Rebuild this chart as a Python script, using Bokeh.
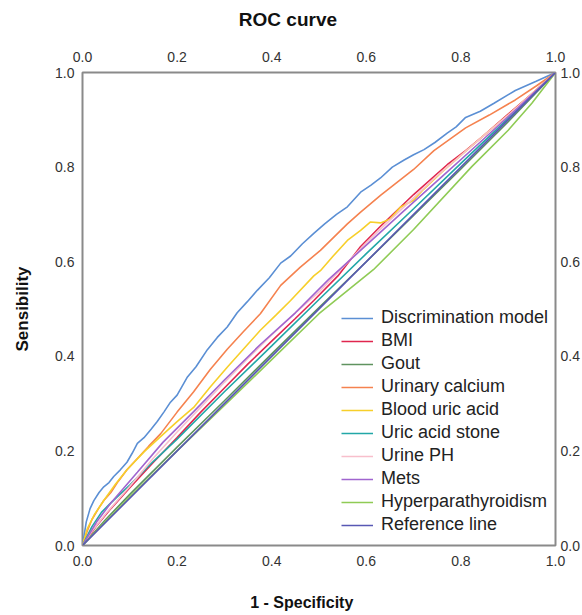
from bokeh.plotting import figure
from bokeh.layouts import column
from bokeh.models import (Range1d, LinearAxis, FixedTicker, PrintfTickFormatter,
                          Label, Legend, LegendItem)
from bokeh.embed import file_html
from bokeh.resources import INLINE

# ---------------- data ----------------
title_text = "ROC curve"
x_label = "1 - Specificity"
y_label = "Sensibility"

names = ["Discrimination model", "BMI", "Gout", "Urinary calcium", "Blood uric acid",
         "Uric acid stone", "Urine PH", "Mets", "Hyperparathyroidism", "Reference line"]

fpr_model = [0, 0.008, 0.016, 0.024, 0.035, 0.045, 0.056, 0.066, 0.080, 0.094, 0.105, 0.116,
             0.130, 0.145, 0.158, 0.172, 0.186, 0.200, 0.221, 0.240, 0.264, 0.285, 0.306,
             0.327, 0.348, 0.370, 0.395, 0.419, 0.440, 0.465, 0.489, 0.512, 0.537, 0.560,
             0.588, 0.610, 0.630, 0.655, 0.680, 0.700, 0.722, 0.745, 0.771, 0.790, 0.810,
             0.841, 0.870, 0.915, 0.958, 1.0]
tpr_model = [0, 0.050, 0.078, 0.095, 0.112, 0.124, 0.133, 0.146, 0.160, 0.176, 0.195, 0.216,
             0.228, 0.246, 0.262, 0.282, 0.303, 0.318, 0.355, 0.378, 0.414, 0.440, 0.462,
             0.492, 0.515, 0.540, 0.566, 0.597, 0.612, 0.638, 0.660, 0.680, 0.700, 0.716,
             0.747, 0.762, 0.777, 0.800, 0.815, 0.826, 0.837, 0.852, 0.872, 0.885, 0.905,
             0.918, 0.935, 0.962, 0.981, 1.0]

fpr_bmi = [0, 0.03, 0.06, 0.10, 0.15, 0.20, 0.25, 0.30, 0.35, 0.40, 0.45, 0.489, 0.54, 0.588,
           0.63, 0.70, 0.771, 0.81, 0.85, 0.90, 0.95, 1.0]
tpr_bmi = [0, 0.042, 0.078, 0.122, 0.176, 0.228, 0.282, 0.333, 0.384, 0.432, 0.480, 0.518,
           0.570, 0.632, 0.675, 0.742, 0.805, 0.835, 0.868, 0.912, 0.955, 1.0]

fpr_gout = [0, 0.05, 0.10, 0.20, 0.30, 0.40, 0.50, 0.60, 0.70, 0.80, 0.90, 1.0]
tpr_gout = [0, 0.056, 0.108, 0.208, 0.306, 0.405, 0.503, 0.600, 0.698, 0.796, 0.896, 1.0]

fpr_calcium = [0, 0.010, 0.020, 0.035, 0.045, 0.060, 0.075, 0.094, 0.120, 0.140, 0.165, 0.200,
               0.235, 0.270, 0.306, 0.340, 0.376, 0.419, 0.460, 0.503, 0.560, 0.588, 0.630,
               0.700, 0.743, 0.810, 0.860, 0.915, 0.960, 1.0]
tpr_calcium = [0, 0.030, 0.055, 0.080, 0.095, 0.112, 0.135, 0.160, 0.188, 0.210, 0.236, 0.282,
               0.325, 0.372, 0.415, 0.452, 0.490, 0.550, 0.588, 0.624, 0.680, 0.705, 0.740,
               0.795, 0.835, 0.883, 0.910, 0.942, 0.972, 1.0]

fpr_uric = [0, 0.010, 0.025, 0.045, 0.070, 0.094, 0.130, 0.165, 0.200, 0.235, 0.270, 0.306,
            0.340, 0.376, 0.410, 0.440, 0.489, 0.503, 0.530, 0.560, 0.588, 0.609, 0.630,
            0.650, 0.672, 0.700, 0.720, 0.760, 0.800, 0.850, 0.900, 0.950, 1.0]
tpr_uric = [0, 0.035, 0.065, 0.095, 0.130, 0.160, 0.198, 0.230, 0.262, 0.292, 0.335, 0.377,
            0.415, 0.455, 0.488, 0.518, 0.570, 0.581, 0.612, 0.645, 0.666, 0.684, 0.682,
            0.690, 0.715, 0.730, 0.752, 0.790, 0.825, 0.868, 0.910, 0.955, 1.0]

fpr_stone = [0, 0.02, 0.04, 0.06, 0.10, 0.15, 0.20, 0.30, 0.40, 0.50, 0.60, 0.70, 0.80, 0.90, 1.0]
tpr_stone = [0, 0.040, 0.070, 0.090, 0.128, 0.178, 0.225, 0.325, 0.422, 0.520, 0.617, 0.712,
             0.808, 0.903, 1.0]

fpr_ph = [0, 0.02, 0.05, 0.10, 0.15, 0.20, 0.264, 0.30, 0.35, 0.40, 0.45, 0.503, 0.55, 0.60,
          0.65, 0.70, 0.75, 0.80, 0.85, 0.90, 0.95, 1.0]
tpr_ph = [0, 0.030, 0.068, 0.125, 0.185, 0.240, 0.307, 0.345, 0.396, 0.445, 0.492, 0.539,
          0.588, 0.640, 0.688, 0.735, 0.782, 0.825, 0.868, 0.910, 0.955, 1.0]

fpr_mets = [0, 0.03, 0.06, 0.116, 0.17, 0.235, 0.30, 0.376, 0.45, 0.52, 0.60, 0.68, 0.76, 0.84,
            0.92, 1.0]
tpr_mets = [0, 0.050, 0.090, 0.155, 0.218, 0.283, 0.350, 0.425, 0.492, 0.562, 0.635, 0.708,
            0.780, 0.852, 0.925, 1.0]

fpr_hyper = [0, 0.05, 0.10, 0.20, 0.30, 0.40, 0.50, 0.615, 0.70, 0.823, 0.90, 0.95, 1.0]
tpr_hyper = [0, 0.052, 0.103, 0.200, 0.296, 0.393, 0.490, 0.583, 0.668, 0.801, 0.878, 0.935, 1.0]

fpr_ref = [0, 1]
tpr_ref = [0, 1]

ticks = [0.0, 0.2, 0.4, 0.6, 0.8, 1.0]

colors = ["#5b8fd4", "#e0264e", "#5f935f", "#f5824f", "#f7cf2a",
          "#22a7a7", "#f8bfcc", "#a065cf", "#8fcb55", "#5858b4"]

series = [(fpr_model, tpr_model), (fpr_bmi, tpr_bmi), (fpr_gout, tpr_gout),
          (fpr_calcium, tpr_calcium), (fpr_uric, tpr_uric), (fpr_stone, tpr_stone),
          (fpr_ph, tpr_ph), (fpr_mets, tpr_mets), (fpr_hyper, tpr_hyper), (fpr_ref, tpr_ref)]

FONT = "Liberation Sans"
W = 580


def text_strip(height, text, cx, cy, size):
    """A blank strip figure that only carries one line of bold text."""
    f = figure(width=W, height=height, x_range=Range1d(0, W), y_range=Range1d(0, height),
               min_border=0, min_border_left=0, min_border_right=0,
               min_border_top=0, min_border_bottom=0,
               x_axis_location=None, y_axis_location=None,
               output_backend="svg", toolbar_location=None,
               background_fill_color="white", border_fill_color="white")
    f.grid.visible = False
    f.outline_line_color = None
    f.add_layout(Label(x=cx, y=cy, text=text, text_font=FONT, text_font_size=size,
                       text_font_style="bold", text_color="#111111",
                       text_align="center", text_baseline="middle"))
    return f


top = text_strip(38, title_text, 253, 19, "19px")

p = figure(x_range=Range1d(0, 1), y_range=Range1d(0, 1),
           frame_width=473, frame_height=473,
           min_border_left=82, min_border_right=25, min_border_top=34, min_border_bottom=27,
           output_backend="svg", toolbar_location=None, title=None,
           background_fill_color="white", border_fill_color="white")

p.grid.visible = False
p.outline_line_color = "#8a8a8a"
p.outline_line_width = 2

# axes
p.add_layout(LinearAxis(), "above")
p.add_layout(LinearAxis(), "right")
for ax in p.axis:
    ax.ticker = FixedTicker(ticks=ticks)
    ax.formatter = PrintfTickFormatter(format="%.1f")
    ax.axis_line_color = None
    ax.major_tick_line_color = None
    ax.minor_tick_line_color = None
    ax.major_tick_out = 0
    ax.major_tick_in = 0
    ax.minor_tick_out = 0
    ax.minor_tick_in = 0
    ax.major_label_text_font = FONT
    ax.major_label_text_font_size = "14px"
    ax.major_label_text_color = "#333333"
p.below[0].major_label_standoff = 10
p.above[0].major_label_standoff = 11
p.left[0].major_label_standoff = 8
p.right[0].major_label_standoff = 5

p.left[0].axis_label = y_label
p.left[0].axis_label_text_font = FONT
p.left[0].axis_label_text_font_size = "17px"
p.left[0].axis_label_text_font_style = "bold"
p.left[0].axis_label_text_color = "#111111"
p.left[0].axis_label_standoff = 20

items = []
for name, (fx, ty), c in zip(names, series, colors):
    r = p.line(fx, ty, line_color=c, line_width=1.6)
    items.append(LegendItem(label=name, renderers=[r]))

legend = Legend(items=items, location=(259, 10), label_text_font=FONT,
                label_text_font_size="18px", label_text_color="#222222",
                glyph_width=32, glyph_height=20, label_height=20, label_standoff=8,
                spacing=2, padding=7, margin=0, border_line_color=None,
                background_fill_color="white", background_fill_alpha=1.0)
p.add_layout(legend, "center")

bottom = text_strip(40, x_label, 270, 10, "16px")

layout = column(top, p, bottom, spacing=0)
open("out.html", "w").write(file_html(layout, INLINE))
